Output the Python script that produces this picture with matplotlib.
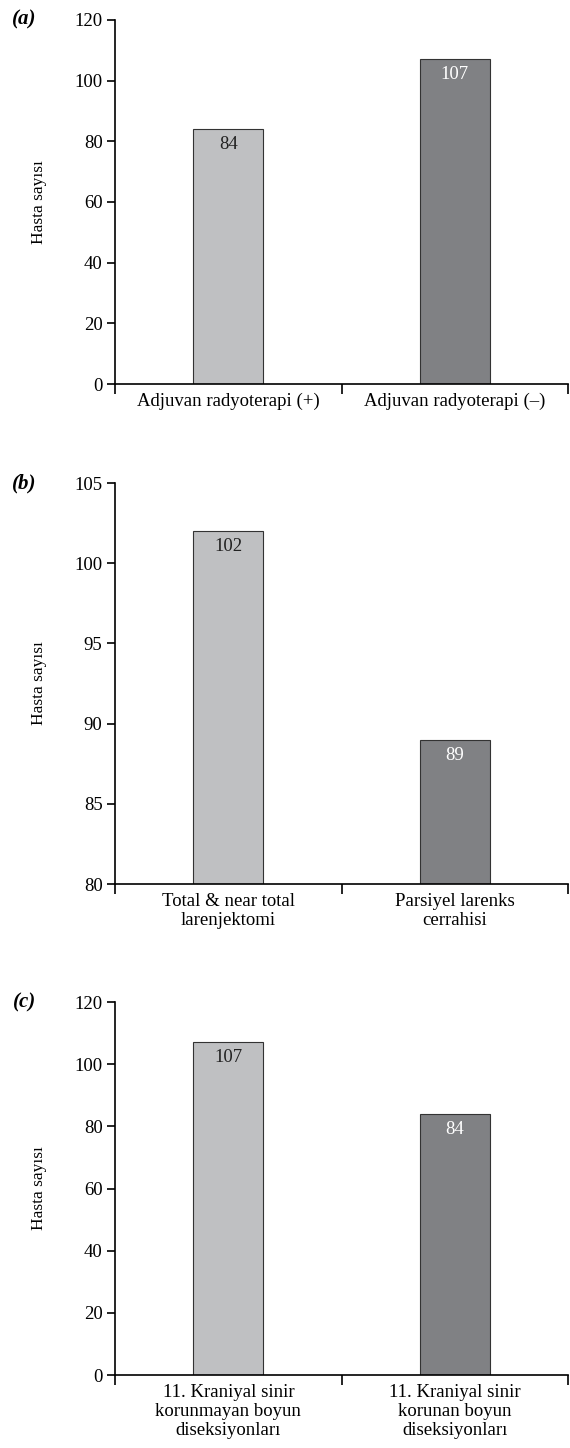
import matplotlib.pyplot as plt

plt.rcParams['font.family'] = ['Liberation Serif', 'DejaVu Serif']

# data
labels_a = ['Adjuvan radyoterapi (+)', 'Adjuvan radyoterapi (–)']
values_a = [84, 107]
labels_b = ['Total & near total\nlarenjektomi', 'Parsiyel larenks\ncerrahisi']
values_b = [102, 89]
labels_c = ['11. Kraniyal sinir\nkorunmayan boyun\ndiseksiyonları',
            '11. Kraniyal sinir\nkorunan boyun\ndiseksiyonları']
values_c = [107, 84]

panels = [
    ('(a)', labels_a, values_a, (0, 120), [0, 20, 40, 60, 80, 100, 120],
     [0.2018, 0.7348, 0.795, 0.2514]),
    ('(b)', labels_b, values_b, (80, 105), [80, 85, 90, 95, 100, 105],
     [0.2018, 0.3895, 0.795, 0.2769]),
    ('(c)', labels_c, values_c, (0, 120), [0, 20, 40, 60, 80, 100, 120],
     [0.2018, 0.0504, 0.795, 0.2576]),
]

colors = ['#bfc0c2', '#808184']
text_colors = ['#222222', 'white']
fs = 13.5

fig = plt.figure(figsize=(5.7, 14.48), dpi=100)

for tag, labels, values, ylim, yticks, pos in panels:
    ax = fig.add_axes(pos)
    x = [0, 1]
    ax.bar(x, [v - ylim[0] for v in values], bottom=ylim[0], width=0.31,
           color=colors, edgecolor='#333333', linewidth=0.8)
    for xi, v, tc in zip(x, values, text_colors):
        ax.annotate(str(v), (xi, v), xytext=(0, -5), textcoords='offset points',
                    ha='center', va='top', fontsize=fs, color=tc)
    ax.set_xlim(-0.5, 1.5)
    ax.set_ylim(*ylim)
    ax.set_yticks(yticks)
    ax.set_xticks([-0.5, 0.5, 1.5])
    ax.set_xticklabels([])
    ax.set_xticks(x, minor=True)
    ax.set_xticklabels(labels, minor=True, fontsize=fs, linespacing=1.15)
    ax.tick_params(axis='x', which='minor', length=0, pad=6.5)
    ax.tick_params(axis='x', which='major', length=7, width=1.2, direction='out')
    ax.tick_params(axis='y', length=6, width=1.2, direction='out', labelsize=fs,
                   pad=3)
    ax.spines['top'].set_visible(False)
    ax.spines['right'].set_visible(False)
    ax.spines['left'].set_linewidth(1.2)
    ax.spines['bottom'].set_linewidth(1.2)
    ax.set_ylabel('Hasta sayısı', fontsize=12.5, labelpad=20)
    ax.text(-0.2, 1.0, tag, transform=ax.transAxes, fontsize=15,
            fontweight='bold', fontstyle='italic', ha='center', va='center')

plt.savefig('out.png', dpi=100)
